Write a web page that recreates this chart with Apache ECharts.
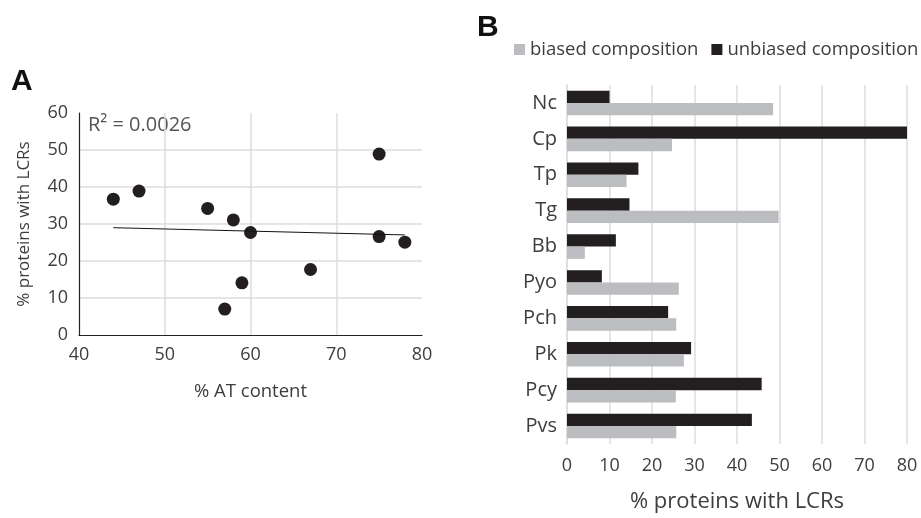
<!DOCTYPE html>
<html><head><meta charset="utf-8">
<script src="https://cdn.jsdelivr.net/npm/echarts@6/dist/echarts.min.js"></script>
<style>html,body{margin:0;padding:0;background:#fff}#c{width:921px;height:518px}</style>
</head><body><div id="c"></div>
<script>
// Panel A data
const atContent = [44, 47, 55, 58, 60, 75, 75, 78, 67, 59, 57];
const lcrPercent = [36.7, 38.9, 34.2, 31.1, 27.7, 48.9, 26.6, 25.1, 17.7, 14.1, 7.0];
const r2Label = 'R² = 0.0026';
// Panel B data
const species = ['Nc', 'Cp', 'Tp', 'Tg', 'Bb', 'Pyo', 'Pch', 'Pk', 'Pcy', 'Pvs'];
const biased = [48.5, 24.7, 14.0, 49.8, 4.2, 26.3, 25.7, 27.5, 25.6, 25.7];
const unbiased = [10.0, 80.0, 16.8, 14.7, 11.5, 8.2, 23.8, 29.2, 45.8, 43.5];
const seriesNames = ['biased composition', 'unbiased composition'];

// linear regression trend line
const n = atContent.length;
const mx = atContent.reduce((a, b) => a + b, 0) / n;
const my = lcrPercent.reduce((a, b) => a + b, 0) / n;
let sxy = 0, sxx = 0;
for (let i = 0; i < n; i++) { sxy += (atContent[i] - mx) * (lcrPercent[i] - my); sxx += (atContent[i] - mx) ** 2; }
const slope = sxy / sxx, icpt = my - slope * mx;
const xMin = Math.min(...atContent), xMax = Math.max(...atContent);
const trend = [[xMin, icpt + slope * xMin], [xMax, icpt + slope * xMax]];

const FONT = 'Open Sans';
const TXT = '#3d3d3d';
const chart = echarts.init(document.getElementById('c'), null, { renderer: 'canvas' });
chart.setOption({
  animation: false,
  textStyle: { fontFamily: FONT },
  legend: {
    left: 514, top: 40, padding: 0, itemWidth: 11, itemHeight: 11, itemGap: 13,
    icon: 'rect',
    textStyle: { fontSize: 18.5, color: TXT, fontFamily: FONT },
    data: seriesNames
  },
  graphic: [
    { type: 'text', left: 11, top: 67, style: { text: 'A', font: 'bold 30px Arial', fill: '#111' } },
    { type: 'text', left: 477, top: 13, style: { text: 'B', font: 'bold 30px Arial', fill: '#111' } },
    { type: 'text', left: 88, top: 115, style: { text: r2Label, font: '20px "Open Sans"', fill: '#555' } }
  ],
  grid: [
    { left: 79, top: 113, width: 343, height: 222 },
    { left: 567, top: 85, width: 340, height: 363 }
  ],
  xAxis: [
    { gridIndex: 0, type: 'value', min: 40, max: 80, interval: 10,
      name: '% AT content', nameLocation: 'middle', nameGap: 47,
      nameTextStyle: { fontSize: 18.5, color: TXT },
      axisLine: { show: true, lineStyle: { color: '#222', width: 1.2 } },
      axisTick: { show: false },
      axisLabel: { fontSize: 18, color: TXT, margin: 11 },
      splitLine: { show: true, showMinLine: false, showMaxLine: false, lineStyle: { color: '#dcdcdc', width: 1.5 } } },
    { gridIndex: 1, type: 'value', min: 0, max: 80, interval: 10,
      name: '% proteins with LCRs', nameLocation: 'middle', nameGap: 47,
      nameTextStyle: { fontSize: 22, color: TXT },
      axisLine: { show: false }, axisTick: { show: false },
      axisLabel: { fontSize: 18, color: TXT, margin: 13 },
      splitLine: { show: true, showMinLine: false, lineStyle: { color: '#dcdcdc', width: 1.5 } } }
  ],
  yAxis: [
    { gridIndex: 0, type: 'value', min: 0, max: 60, interval: 10,
      name: '% proteins with LCRs', nameLocation: 'middle', nameGap: 46,
      nameTextStyle: { fontSize: 17, color: TXT },
      axisLine: { show: true, lineStyle: { color: '#222', width: 1.2 } },
      axisTick: { show: false },
      axisLabel: { fontSize: 18, color: TXT, margin: 11 },
      splitLine: { show: true, showMinLine: false, showMaxLine: false, lineStyle: { color: '#dcdcdc', width: 1.5 } } },
    { gridIndex: 1, type: 'category', data: species, inverse: true,
      axisLine: { show: true, lineStyle: { color: '#d4d4d4', width: 1.5 } },
      axisTick: { show: false },
      axisLabel: { fontSize: 20, color: TXT, margin: 10 } }
  ],
  series: [
    { type: 'scatter', xAxisIndex: 0, yAxisIndex: 0, symbolSize: 13,
      itemStyle: { color: '#231f20', opacity: 1 },
      data: atContent.map((x, i) => [x, lcrPercent[i]]) },
    { type: 'line', xAxisIndex: 0, yAxisIndex: 0, data: trend, symbol: 'none',
      lineStyle: { color: '#111', width: 1 }, silent: true },
    { name: seriesNames[1], type: 'bar', xAxisIndex: 1, yAxisIndex: 1, data: unbiased,
      barWidth: 12.3, barGap: '0%', itemStyle: { color: '#231f20' } },
    { name: seriesNames[0], type: 'bar', xAxisIndex: 1, yAxisIndex: 1, data: biased,
      barWidth: 12.3, barGap: '0%', itemStyle: { color: '#bcbdc0' } }
  ]
});
</script></body></html>
